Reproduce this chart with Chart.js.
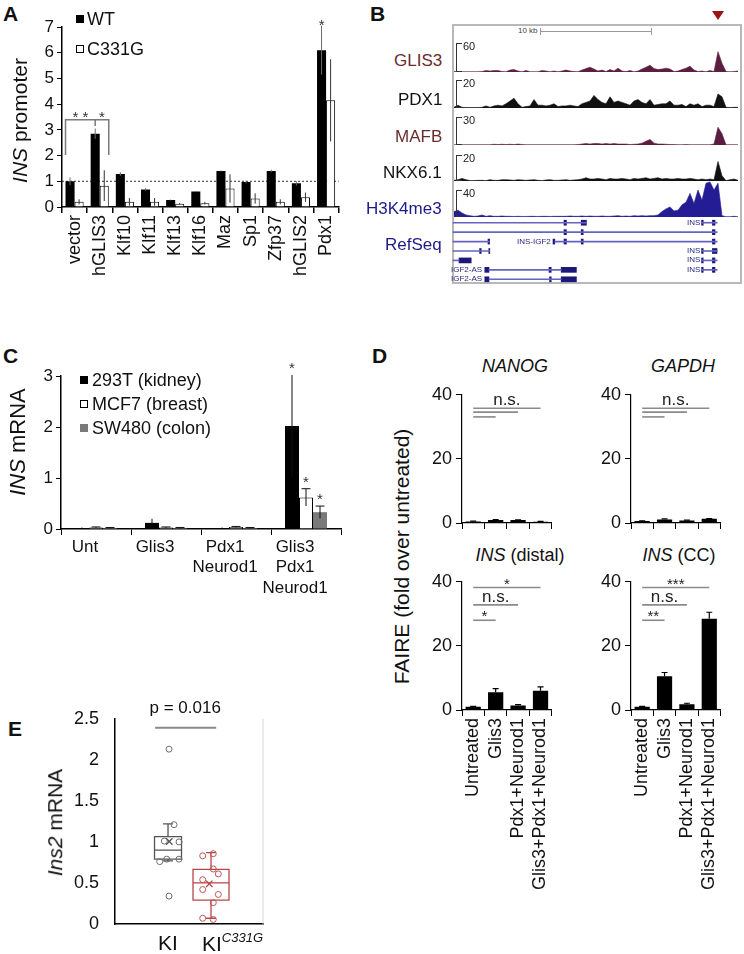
<!DOCTYPE html>
<html><head><meta charset="utf-8">
<script src="https://cdn.jsdelivr.net/npm/chart.js@4.4.1/dist/chart.umd.min.js"></script>
<style>
html,body{margin:0;padding:0;background:#fff;}
body{width:744px;height:954px;position:relative;overflow:hidden;font-family:'Liberation Sans',Arial,Helvetica,sans-serif;color:#111;}
canvas{position:absolute;}
.t{position:absolute;white-space:nowrap;line-height:1;}
.bx{position:absolute;}
</style></head><body>
<script>
// ================= DATA =================
// Panel A
const aCategories = ['vector','hGLIS3','Klf10','Klf11','Klf13','Klf16','Maz','Sp1','Zfp37','hGLIS2','Pdx1'];
const aWT       = [1.0, 2.85, 1.28, 0.68, 0.27, 0.6, 1.4, 0.97, 1.4, 0.92, 6.1];
const aWTerr    = [0.15, 0.2, 0.07, 0.05, 0.02, 0.02, 0.02, 0.05, 0.05, 0.08, 0.95];
const aC331G    = [0.2, 0.83, 0.2, 0.2, 0.13, 0.15, 0.72, 0.33, 0.2, 0.38, 4.15];
const aC331Gerr = [0.1, 0.6, 0.15, 0.15, 0.03, 0.05, 0.55, 0.2, 0.1, 0.18, 1.6];
const aYMax = 7;

// Panel B (genome browser signal, 72 bins across the window)
const bGLIS3 = [1,1,0.5,0.5,0.5,0.5,0.5,1,3,2,3,3,1,0.5,4,5,2,0.5,3,0.5,0.5,0.5,3,2,0.5,2,0.5,2,4,2,1,0.5,4,7,10,6,2,4,1,5,2,8,2,1,3,0.5,2,6,10,14,7,5,6,8,6,1,2,5,8,12,4,1,2,0.5,3,1,42,18,1,0.5,1,2];
const bPDX1  = [0.5,2,0.5,0.3,0.3,0.3,0.3,0.5,1.5,0.5,1.5,2,1.5,3,5,7,3,0.5,1,1.5,6,2,2,1.5,2,3,1,1.5,1.5,2,1.5,1,3,4,5,9,6,4,3,8,4,5,4,3,2,5,6,4,3,6,2,2.5,3,3,5,2,2,2.5,1,3,2,3,1,2,2,1,10,8,0.5,0.3,0.5,0.5];
const bMAFB  = [0.3,0.3,0.3,0.3,0.3,0.3,0.3,0.3,0.3,0.3,0.8,0.5,0.8,0.5,0.8,0.5,1,0.5,0.3,0.3,0.3,0.3,0.3,0.3,0.3,0.3,0.3,0.3,0.3,0.3,0.3,0.5,1,1.5,1,1.5,1.5,1,1.5,1,1.5,1,1,1,0.5,0.8,1,2,4,6,2,1,1,0.8,0.5,0.5,0.3,0.3,0.5,0.3,0.3,0.3,0.3,0.3,0.3,1,19,12,0.3,0.3,0.3,0.3];
const bNKX61 = [0.5,1,2,1,0.3,0.3,0.5,0.5,0.3,1,0.5,0.5,1,1,0.8,0.5,1,0.8,0.5,0.8,1,0.5,0.3,0.8,1,0.5,0.5,0.8,1,0.5,0.8,1,1.5,2.5,1.5,1.5,2,1.5,1,2,1.5,1.5,2,1.5,1,2,1.5,2,2.5,1.5,2,2.5,1.5,2,1.5,1.5,2,1.5,1.5,2,1.5,1,1.5,1,1.5,1,15,4,0.3,1,1.5,0.5];
const bH3K4  = [8,10,6,3,2,1,1.5,3,1,2,1,1,1.5,1,1,0.8,1,0.8,0.8,1,1,0.8,1,1,0.8,1,1,1,1,1.5,1,1,1.5,1,1.5,1,1,1.5,1,1,1.5,2,1,1.5,1,2,1.5,2,1.5,2,2,3,8,12,15,9,10,18,22,35,20,40,25,50,52,40,50,2,0.5,0.5,1,0.5];
const bTrackNames = ['GLIS3','PDX1','MAFB','NKX6.1','H3K4me3'];
const bTrackScale = [60, 20, 30, 20, 40];
const bRows = ['r0','r1','r2','r3','r4','r5','r6'];
const bIntrons = [['r0',0.25,33.6],['r0',62.4,66.3],['r1',0.25,66.3],['r2',0.25,9.4],['r2',25.7,66.3],['r3',0.25,9.4],['r3',62.4,66.3],['r4',0.25,1.75],['r4',62.4,66.3],['r5',9.25,27.3],['r5',62.4,66.3],['r6',9.25,27.3]];
const bExons = [['r0',28,28.6],['r0',32.3,33.6],['r0',62.4,62.8],['r0',65.1,65.75],
  ['r1',28,28.6],['r1',32.3,32.8],['r1',65.1,65.75],
  ['r2',9,9.4],['r2',25.25,25.7],['r2',28,28.6],['r2',32.3,32.8],['r2',65.1,65.75],
  ['r3',6.9,7.3],['r3',9.2,9.4],['r3',62.4,62.8],['r3',65.1,66.25],
  ['r4',1.75,4.8],['r4',62.4,62.8],['r4',65.1,65.75],
  ['r5',8.2,9.25],['r5',24.25,24.8],['r5',27.3,31.1],['r5',62.4,62.8],['r5',65.1,65.75],
  ['r6',8.2,9.25],['r6',24.4,24.8],['r6',27.3,31.1]];

// Panel C
const cCategories = [['Unt'],['Glis3'],['Pdx1','Neurod1'],['Glis3','Pdx1','Neurod1']];
const cSeriesNames = ['293T (kidney)','MCF7 (breast)','SW480 (colon)'];
const c293T    = [0.02, 0.12, 0.02, 2.02];
const c293Terr = [0.01, 0.08, 0.01, 1.0];
const cMCF7    = [0.03, 0.03, 0.04, 0.62];
const cMCF7err = [0.01, 0.01, 0.01, 0.17];
const cSW480   = [0.02, 0.02, 0.02, 0.33];
const cSW480err= [0.01, 0.01, 0.01, 0.12];
const cYMax = 3;

// Panel D
const dCategories = ['Untreated','Glis3','Pdx1+Neurod1','Glis3+Pdx1+Neurod1'];
const dNANOG = [0.5, 0.9, 0.9, 0.4];    const dNANOGerr = [0.1, 0.15, 0.1, 0.1];
const dGAPDH = [0.6, 1.1, 0.8, 1.3];    const dGAPDHerr = [0.1, 0.2, 0.1, 0.1];
const dINSd  = [1.0, 5.5, 1.4, 6.0];    const dINSderr  = [0.1, 1.2, 0.3, 1.2];
const dINScc = [1.0, 10.5, 1.8, 28.5];  const dINSccerr = [0.1, 1.2, 0.3, 2.0];
const dSigNANOG = [[0,3,35.8,'n.s.'],[0,2,34.6,''],[0,1,33.1,'']];
const dSigGAPDH = [[0,3,35.8,'n.s.'],[0,2,34.6,''],[0,1,33.1,'']];
const dSigINSd  = [[0,3,38.2,'*'],[0,2,32.8,'n.s.'],[0,1,28,'*']];
const dSigINScc = [[0,3,38.2,'***'],[0,2,32.8,'n.s.'],[0,1,28,'**']];
const dYMax = 40;

// Panel E
const eGroups = ['KI','KI C331G'];
const eKI   = [2.13, 1.21, 1.01, 1.0, 0.79, 0.79, 0.76, 0.34];
const eKIx  = [1.023, 1.14, 0.914, 1.256, 0.97, 1.256, 0.807, 1.023];
const eMut  = [0.857, 0.83, 0.67, 0.61, 0.54, 0.42, 0.36, 0.26, 0.07, 0.055];
const eMutx = [2.053, 1.807, 2.053, 2.17, 1.807, 1.807, 2.17, 2.053, 1.807, 2.053];
const eKIbox  = {min:0.77, q1:0.79, median:0.90, q3:1.065, max:1.22, mean:1.005};
const eMutbox = {min:0.07, q1:0.29, median:0.50, q3:0.665, max:0.87, mean:0.49};
const ePLine = {x1:0.7, x2:2.12, y:2.39};
const eYMax = 2.5;

// ================= HELPERS =================
Chart.defaults.font.family = "'Liberation Sans', Arial, Helvetica, sans-serif";
Chart.defaults.color = '#111';
Chart.defaults.animation = false;
Chart.defaults.responsive = false;
Chart.defaults.plugins.legend.display = false;
Chart.defaults.plugins.tooltip.enabled = false;

function mk(box, area, cfg){
  const c = document.createElement('canvas');
  c.width = box.w; c.height = box.h;
  c.style.left = box.x+'px'; c.style.top = box.y+'px';
  c.style.width = box.w+'px'; c.style.height = box.h+'px';
  document.body.appendChild(c);
  cfg.options = cfg.options || {};
  cfg.options.layout = {padding:{left:0, top: area.t-box.y, right: box.x+box.w-area.r, bottom:0}};
  const sc = cfg.options.scales;
  const yw = area.l-box.x, xh = box.y+box.h-area.b;
  if (sc && sc.y) sc.y.afterFit = (s)=>{ s.width = yw; };
  if (sc && sc.x) sc.x.afterFit = (s)=>{ s.height = xh; };
  return new Chart(c, cfg);
}
function txt(html, x, y, o){
  o = o || {};
  const d = document.createElement('div'); d.className='t'; d.innerHTML = html;
  d.style.fontSize = (o.size||16)+'px';
  if (o.color) d.style.color = o.color;
  if (o.bold) d.style.fontWeight = 'bold';
  if (o.italic) d.style.fontStyle = 'italic';
  document.body.appendChild(d);
  const w = d.offsetWidth, h = d.offsetHeight;
  let left = x;
  if (o.align==='center') left = x - w/2; else if (o.align==='right') left = x - w;
  d.style.left = left+'px'; d.style.top = (y - h/2)+'px';
  if (o.rot){ d.style.left=(x-w/2)+'px'; d.style.transform='rotate(-90deg)'; }
  return d;
}
function rect(x,y,w,h,css){
  const d=document.createElement('div'); d.className='bx';
  d.style.left=x+'px'; d.style.top=y+'px'; d.style.width=w+'px'; d.style.height=h+'px';
  d.style.cssText += css||''; document.body.appendChild(d); return d;
}

const errPlugin = {id:'errbars', afterDatasetsDraw(chart, args, opts){
  const ctx = chart.ctx, ys = chart.scales.y;
  (opts.sets||[]).forEach(s=>{
    const meta = chart.getDatasetMeta(s.ds), vals = chart.data.datasets[s.ds].data;
    meta.data.forEach((el,i)=>{
      const v = vals[i], e = s.err[i]; if (!e) return;
      const yt = ys.getPixelForValue(v+e);
      const yb = s.both ? ys.getPixelForValue(Math.max(v-e,0)) : el.y;
      ctx.save(); ctx.strokeStyle = s.color; ctx.lineWidth = s.width||1;
      ctx.beginPath(); ctx.moveTo(el.x, yb); ctx.lineTo(el.x, yt);
      if (s.cap){ ctx.moveTo(el.x-s.cap/2, yt); ctx.lineTo(el.x+s.cap/2, yt); }
      ctx.stroke(); ctx.restore();
    });
  });
}};
const starPlugin = {id:'stars', afterDatasetsDraw(chart, args, opts){
  const ctx = chart.ctx, ys = chart.scales.y;
  (opts.items||[]).forEach(it=>{
    const el = chart.getDatasetMeta(it.ds).data[it.i];
    const v = chart.data.datasets[it.ds].data[it.i] + (it.err||0);
    ctx.save(); ctx.fillStyle = opts.color||'#333'; ctx.font = (opts.size||15)+"px 'Liberation Sans', Arial";
    ctx.textAlign='center'; ctx.textBaseline='alphabetic';
    ctx.fillText(it.text, el.x, ys.getPixelForValue(v) + (opts.dy||0));
    ctx.restore();
  });
}};
const refPlugin = {id:'refline', beforeDatasetsDraw(chart, args, opts){
  if (opts.y===undefined) return;
  const ctx = chart.ctx, a = chart.chartArea, y = chart.scales.y.getPixelForValue(opts.y);
  ctx.save(); ctx.strokeStyle='#333'; ctx.lineWidth=1; ctx.setLineDash([2,2]);
  ctx.beginPath(); ctx.moveTo(a.left, y); ctx.lineTo(a.right, y); ctx.stroke(); ctx.restore();
}};
const sigPlugin = {id:'sig', afterDatasetsDraw(chart, args, opts){
  const ctx = chart.ctx, xs = chart.scales.x, ys = chart.scales.y;
  (opts.lines||[]).forEach(l=>{
    const x1 = xs.getPixelForValue(l[0]), x2 = xs.getPixelForValue(l[1]), y = ys.getPixelForValue(l[2]);
    ctx.save(); ctx.strokeStyle='#8a8a8a'; ctx.lineWidth=1.6;
    ctx.beginPath(); ctx.moveTo(x1,y); ctx.lineTo(x2,y); ctx.stroke();
    if (l[3]){
      ctx.fillStyle='#222'; ctx.textAlign='center'; ctx.textBaseline='alphabetic';
      const star = l[3].indexOf('*')>=0;
      ctx.font = (star?15:17)+"px 'Liberation Sans', Arial";
      ctx.fillText(l[3], (x1+x2)/2, y + (star?1:-3));
    }
    ctx.restore();
  });
}};

const FONT = "'Liberation Sans', Arial, Helvetica, sans-serif";

// ================= PANEL A =================
txt('A', 3, 13, {size:21, bold:true});
mk({x:0,y:0,w:350,h:300}, {l:62,t:27,r:343,b:207}, {
  type:'bar',
  data:{labels:aCategories, datasets:[
    {label:'WT', data:aWT, backgroundColor:'#000', borderWidth:0},
    {label:'C331G', data:aC331G, backgroundColor:'#fff', borderColor:'#000', borderWidth:1}
  ]},
  options:{
    datasets:{bar:{categoryPercentage:0.72, barPercentage:1}},
    plugins:{
      errbars:{sets:[{ds:0, err:aWTerr, color:'#6a6a6a', both:true},{ds:1, err:aC331Gerr, color:'#333', both:true}]},
      refline:{y:1},
      stars:{items:[{ds:0,i:10,err:aWTerr[10],text:'*'}], dy:4, size:15},
      aBracket:{top:3.39, low:2.02, mid:3.15}
    },
    scales:{
      x:{grid:{offset:true, drawOnChartArea:false, tickLength:6, color:'#000', lineWidth:1.5}, border:{color:'#000', width:1.5},
         ticks:{minRotation:90, maxRotation:90, autoSkip:false, font:{size:18}, color:'#111', padding:2}},
      y:{min:0, max:aYMax, ticks:{stepSize:1, font:{size:17}, color:'#111', padding:3},
         grid:{drawOnChartArea:false, tickLength:5, color:'#000'}, border:{color:'#000', width:1.5}}
    }
  },
  plugins:[refPlugin, errPlugin, starPlugin, {id:'aBracket', afterDatasetsDraw(chart, args, o){
    const ctx=chart.ctx, ys=chart.scales.y, m0=chart.getDatasetMeta(0), m1=chart.getDatasetMeta(1);
    const top=ys.getPixelForValue(o.top), low=ys.getPixelForValue(o.low), mid=ys.getPixelForValue(o.mid);
    const xl=m0.data[0].x-m0.data[0].width/2, xm=m0.data[1].x, xr=m1.data[1].x+m1.data[1].width/2;
    ctx.save(); ctx.strokeStyle='#7a7a7a'; ctx.lineWidth=1.5; ctx.beginPath();
    ctx.moveTo(xl,low); ctx.lineTo(xl,top); ctx.lineTo(xr,top); ctx.lineTo(xr,low);
    ctx.moveTo(xm,top); ctx.lineTo(xm,mid); ctx.stroke();
    ctx.fillStyle='#333'; ctx.font="15px "+FONT; ctx.textAlign='center';
    ctx.fillText('* *', (xl+xm)/2, top+2); ctx.fillText('*', (xm+xr)/2, top+2);
    ctx.restore();
  }}]
});
txt('<i>INS</i> promoter', 19, 120, {size:21, rot:true});
rect(76,15,8,8,'background:#000;');
txt('WT', 87, 19, {size:18});
rect(76,45,8,8,'background:#fff;border:1px solid #000;box-sizing:border-box;');
txt('C331G', 87, 49, {size:18});

// ================= PANEL B =================
txt('B', 370, 13, {size:21, bold:true});
rect(452,24,290,260,'border:2px solid #b8b8b8;box-sizing:border-box;');
rect(712,11,0,0,'border-left:6px solid transparent;border-right:6px solid transparent;border-top:9px solid #9b1313;width:0;height:0;');
txt('10 kb', 538, 31, {size:8, align:'right', color:'#444'});
rect(540,31,112,1,'background:#999;');
rect(540,28,1,7,'background:#999;');
rect(651,28,1,7,'background:#999;');
const bData = [bGLIS3, bPDX1, bMAFB, bNKX61, bH3K4];
const bStyle = [
  {base:72, top:43, color:'#5b1d40', label:'#6b2b2b', ly:60},
  {base:108, top:80, color:'#111111', label:'#111', ly:99},
  {base:145, top:117, color:'#5b1d40', label:'#6b2b2b', ly:136},
  {base:181, top:155, color:'#111111', label:'#111', ly:172},
  {base:217, top:190, color:'#231c94', label:'#1f1a8a', ly:208}
];
const bLabels = bData[0].map((_,i)=>i);
bData.forEach((arr, k)=>{
  const st = bStyle[k], H = 36;
  mk({x:452,y:st.base-H,w:288,h:H}, {l:452,t:st.base-H,r:740,b:st.base}, {
    type:'line',
    data:{labels:bLabels, datasets:[{data:arr, fill:'origin', backgroundColor:st.color, borderColor:st.color, borderWidth:0.6, pointRadius:0, tension:0}]},
    options:{clip:false, scales:{x:{display:false, offset:true}, y:{display:false, min:0, max:bTrackScale[k]*H/(st.base-st.top)}}}
  });
  txt(bTrackNames[k], 442, st.ly, {size:17, align:'right', color:st.label});
  rect(456, st.top, 1, st.base-st.top, 'background:#333;');
  rect(456, st.top, 6, 1, 'background:#333;');
  rect(456, st.base-1, 6, 1, 'background:#333;');
  txt(String(bTrackScale[k]), 463, st.top+3, {size:11, color:'#222'});
});
txt('RefSeq', 442, 244, {size:17, align:'right', color:'#1f1a8a'});
mk({x:452,y:218,w:288,h:66}, {l:452,t:218,r:740,b:284}, {
  type:'bar',
  data:{labels:bRows, datasets:[
    {data:bIntrons.map(r=>({y:r[0], x:[r[1],r[2]]})), backgroundColor:'#6464c4', barThickness:1},
    {data:bExons.map(r=>({y:r[0], x:[r[1],r[2]]})), backgroundColor:'#1c1877', barThickness:5, minBarLength:1}
  ]},
  options:{indexAxis:'y', grouped:false, datasets:{bar:{grouped:false}},
    scales:{x:{type:'linear', display:false, min:0, max:72}, y:{display:false}}}
});
[[0,'INS',700],[3,'INS',700],[4,'INS',700],[5,'INS',700],[2,'INS-IGF2',551],[5,'IGF2-AS',482],[6,'IGF2-AS',482]].forEach(r=>{
  txt(r[1], r[2], 218+(r[0]+0.5)*66/7, {size:8, align:'right', color:'#2a2680'});
});

// ================= PANEL C =================
txt('C', 3, 355, {size:21, bold:true});
mk({x:0,y:340,w:360,h:270}, {l:61,t:376,r:341,b:529}, {
  type:'bar',
  data:{labels:cCategories, datasets:[
    {label:cSeriesNames[0], data:c293T, backgroundColor:'#000', borderWidth:0},
    {label:cSeriesNames[1], data:cMCF7, backgroundColor:'#fff', borderColor:'#000', borderWidth:1},
    {label:cSeriesNames[2], data:cSW480, backgroundColor:'#7a7a7a', borderWidth:0}
  ]},
  options:{
    datasets:{bar:{categoryPercentage:0.6, barPercentage:1}},
    plugins:{
      errbars:{sets:[{ds:0,err:c293Terr,color:'#111',both:true,cap:0},{ds:1,err:cMCF7err,color:'#111',both:true,cap:9},{ds:2,err:cSW480err,color:'#111',both:true,cap:9}]},
      stars:{items:[{ds:0,i:3,err:c293Terr[3],text:'*'},{ds:1,i:3,err:cMCF7err[3],text:'*'},{ds:2,i:3,err:cSW480err[3],text:'*'}], dy:-2, size:15}
    },
    scales:{
      x:{grid:{offset:true, drawOnChartArea:false, tickLength:6, color:'#000'}, border:{color:'#000', width:1.5},
         ticks:{maxRotation:0, autoSkip:false, font:{size:17, lineHeight:1.2}, color:'#111', padding:2, labelOffset:-11}},
      y:{min:0, max:cYMax, ticks:{stepSize:1, font:{size:17}, color:'#111', padding:3},
         grid:{drawOnChartArea:false, tickLength:5, color:'#000'}, border:{color:'#000', width:1.5}}
    }
  },
  plugins:[errPlugin, starPlugin]
});
txt('<i>INS</i> mRNA', 18, 442, {size:22, rot:true});
rect(80,376,8,8,'background:#000;');
txt(cSeriesNames[0], 92, 380, {size:18});
rect(80,400,8,8,'background:#fff;border:1px solid #000;box-sizing:border-box;');
txt(cSeriesNames[1], 92, 404, {size:18});
rect(80,424,8,8,'background:#7a7a7a;');
txt(cSeriesNames[2], 92, 428, {size:18});

// ================= PANEL D =================
txt('D', 372, 355, {size:21, bold:true});
function dChart(box, area, vals, errs, sigs, showLabels){
  return mk(box, area, {
    type:'bar',
    data:{labels:dCategories, datasets:[{data:vals, backgroundColor:'#000', borderWidth:0}]},
    options:{
      datasets:{bar:{categoryPercentage:0.68, barPercentage:1}},
      plugins:{errbars:{sets:[{ds:0, err:errs, color:'#000', both:false, cap:6, width:1.2}]}, sig:{lines:sigs}},
      scales:{
        x:{grid:{offset:true, drawOnChartArea:false, tickLength:6, color:'#000'}, border:{color:'#000', width:1.2},
           ticks:{minRotation:90, maxRotation:90, autoSkip:false, font:{size:18}, color:'#111', padding:2,
                  callback:function(v){ return showLabels ? this.getLabelForValue(v) : ''; }}},
        y:{min:0, max:dYMax, ticks:{stepSize:20, font:{size:18}, color:'#111', padding:4},
           grid:{drawOnChartArea:false, tickLength:6, color:'#000'}, border:{color:'#000', width:1.2}}
      }
    },
    plugins:[errPlugin, sigPlugin]
  });
}
dChart({x:415,y:380,w:150,h:160}, {l:462,t:390,r:558,b:523}, dNANOG, dNANOGerr, dSigNANOG, false);
dChart({x:584,y:380,w:150,h:160}, {l:631,t:390,r:725,b:523}, dGAPDH, dGAPDHerr, dSigGAPDH, false);
dChart({x:415,y:567,w:150,h:330}, {l:462,t:577,r:558,b:710}, dINSd, dINSderr, dSigINSd, true);
dChart({x:584,y:567,w:150,h:330}, {l:631,t:577,r:725,b:710}, dINScc, dINSccerr, dSigINScc, true);
txt('NANOG', 515, 366, {size:18, italic:true, align:'center'});
txt('GAPDH', 683, 366, {size:18, italic:true, align:'center'});
txt('<i>INS</i> (distal)', 520, 555, {size:18, align:'center'});
txt('<i>INS</i> (CC)', 679, 555, {size:18, align:'center'});
txt('FAIRE (fold over untreated)', 402, 556, {size:21, rot:true});

// ================= PANEL E =================
txt('E', 8, 728, {size:21, bold:true});
mk({x:0,y:700,w:300,h:254}, {l:115,t:711,r:263,b:924}, {
  type:'scatter',
  data:{datasets:[
    {data:eKI.map((v,i)=>({x:eKIx[i], y:v})), pointStyle:'circle', pointRadius:3, borderColor:'#6e6e6e', backgroundColor:'rgba(255,255,255,0)', borderWidth:1},
    {data:eMut.map((v,i)=>({x:eMutx[i], y:v})), pointStyle:'circle', pointRadius:3, borderColor:'#c05454', backgroundColor:'rgba(255,255,255,0)', borderWidth:1},
    {data:[{x:1.03, y:eKIbox.mean}], pointStyle:'crossRot', pointRadius:4.5, borderColor:'#555', borderWidth:1.3},
    {data:[{x:1.96, y:eMutbox.mean}], pointStyle:'crossRot', pointRadius:4.5, borderColor:'#b84646', borderWidth:1.3}
  ]},
  options:{
    plugins:{boxes:{items:[{c:1, half:13.5, cap:10, s:eKIbox, color:'#555'},{c:2, half:18, cap:10, s:eMutbox, color:'#b84646'}]}, pline:ePLine},
    scales:{
      x:{type:'linear', min:-0.233, max:3.209, ticks:{display:false}, grid:{display:false}, border:{color:'#000', width:1.5}},
      y:{min:0, max:eYMax, ticks:{stepSize:0.5, font:{size:18}, color:'#111', padding:8, callback:(v)=>String(v)},
         grid:{display:false}, border:{color:'#000', width:1.5}}
    }
  },
  plugins:[{id:'boxes', beforeDatasetsDraw(chart, args, o){
    const ctx=chart.ctx, xs=chart.scales.x, ys=chart.scales.y, a=chart.chartArea;
    ctx.save(); ctx.strokeStyle='#d8d8d8'; ctx.lineWidth=1; ctx.beginPath(); ctx.moveTo(a.right,a.top); ctx.lineTo(a.right,a.bottom); ctx.stroke(); ctx.restore();
    o.items.forEach(b=>{
      const cx=xs.getPixelForValue(b.c), s=b.s, p=(v)=>ys.getPixelForValue(v);
      ctx.save(); ctx.strokeStyle=b.color; ctx.lineWidth=1.3; ctx.beginPath();
      ctx.rect(cx-b.half, p(s.q3), 2*b.half, p(s.q1)-p(s.q3));
      ctx.moveTo(cx-b.half, p(s.median)); ctx.lineTo(cx+b.half, p(s.median));
      ctx.moveTo(cx, p(s.q3)); ctx.lineTo(cx, p(s.max));
      ctx.moveTo(cx-b.cap/2, p(s.max)); ctx.lineTo(cx+b.cap/2, p(s.max));
      ctx.moveTo(cx, p(s.q1)); ctx.lineTo(cx, p(s.min));
      ctx.moveTo(cx-b.cap/2, p(s.min)); ctx.lineTo(cx+b.cap/2, p(s.min));
      ctx.stroke(); ctx.restore();
    });
  }}, {id:'pline', afterDatasetsDraw(chart, args, o){
    const ctx=chart.ctx, xs=chart.scales.x, ys=chart.scales.y;
    ctx.save(); ctx.strokeStyle='#8a8a8a'; ctx.lineWidth=2; ctx.beginPath();
    ctx.moveTo(xs.getPixelForValue(o.x1), ys.getPixelForValue(o.y)); ctx.lineTo(xs.getPixelForValue(o.x2), ys.getPixelForValue(o.y)); ctx.stroke(); ctx.restore();
  }}]
});
txt('p = 0.016', 185, 707, {size:17, align:'center'});
txt('<i>Ins2</i> mRNA', 54, 822, {size:21, rot:true});
txt('KI', 168, 942, {size:21, align:'center'});
txt('KI<sup style="font-size:13px;font-style:italic;vertical-align:9px;">C331G</sup>', 202, 942, {size:21});
</script>
</body></html>
